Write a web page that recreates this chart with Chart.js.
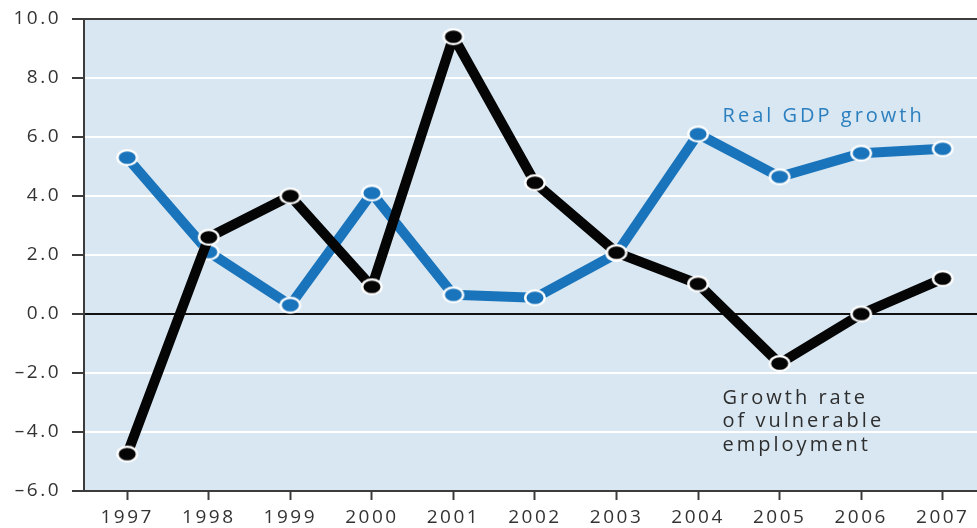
<!DOCTYPE html>
<html>
<head>
<meta charset="utf-8">
<script src="https://cdn.jsdelivr.net/npm/chart.js@4.4.1/dist/chart.umd.min.js"></script>
<style>
html,body{margin:0;padding:0;background:#fff;}
canvas{display:block;}
</style>
</head>
<body>
<canvas id="c" width="977" height="528"></canvas>
<script>
// ---- data ----
const years = [1997, 1998, 1999, 2000, 2001, 2002, 2003, 2004, 2005, 2006, 2007];
const gdpGrowth = [5.3, 2.1, 0.3, 4.1, 0.65, 0.55, 2.05, 6.1, 4.65, 5.45, 5.6];
const vulnerableEmploymentGrowth = [-4.75, 2.6, 4.0, 0.92, 9.4, 4.45, 2.08, 1.02, -1.68, 0.0, 1.2];
const yTicks = [-6, -4, -2, 0, 2, 4, 6, 8, 10];
const gdpLabel = 'Real GDP growth';
const vulnerableLabel = ['Growth rate', 'of vulnerable', 'employment'];

const BLUE = '#1a74bb';
const BLACK = '#050505';
const BG = '#d8e7f2';
const AXIS = '#3c3c3c';
const TEXT = '#333333';
const FONT = '"Open Sans", sans-serif';

const toPts = (vals) => years.map((y, i) => ({x: y, y: vals[i]}));

function ellipseMarker(color) {
  const c = document.createElement('canvas');
  c.width = 24; c.height = 19;
  const g = c.getContext('2d');
  g.fillStyle = '#ffffff';
  g.beginPath(); g.ellipse(12, 9.5, 11, 8.5, 0, 0, Math.PI * 2); g.fill();
  g.fillStyle = color;
  g.beginPath(); g.ellipse(12, 9.5, 8.5, 6.3, 0, 0, Math.PI * 2); g.fill();
  return c;
}

const bgPlugin = {
  id: 'bg',
  beforeDraw(chart) {
    const {ctx, chartArea: a} = chart;
    ctx.save();
    ctx.fillStyle = BG;
    ctx.fillRect(a.left, a.top, a.right - a.left, a.bottom - a.top);
    ctx.restore();
    chart.ctx.letterSpacing = '2.5px';
  },
  afterDraw(chart) {
    const {ctx, chartArea: a, scales} = chart;
    ctx.save();
    ctx.strokeStyle = AXIS;
    ctx.lineWidth = 2;
    ctx.beginPath();
    ctx.moveTo(a.left - 12, a.top);
    ctx.lineTo(a.right, a.top);
    ctx.stroke();
    ctx.letterSpacing = '3px';
    ctx.font = '20px ' + FONT;
    ctx.textBaseline = 'middle';
    ctx.textAlign = 'left';
    const x0 = scales.x.getPixelForValue(2004.3);
    ctx.fillStyle = '#2b7fbe';
    ctx.fillText(gdpLabel, x0, scales.y.getPixelForValue(6.71));
    ctx.fillStyle = '#2e2e2e';
    const y0 = scales.y.getPixelForValue(-2.85);
    vulnerableLabel.forEach((t, i) => ctx.fillText(t, x0, y0 + i * 23.5));
    ctx.restore();
  }
};

new Chart(document.getElementById('c'), {
  type: 'line',
  data: {
    datasets: [
      {
        label: 'Growth rate of vulnerable employment',
        data: toPts(vulnerableEmploymentGrowth),
        borderColor: BLACK,
        backgroundColor: BLACK,
        borderWidth: 10,
        pointStyle: ellipseMarker(BLACK),
        pointRadius: 9,
        tension: 0,
        borderJoinStyle: 'bevel',
        clip: false
      },
      {
        label: gdpLabel,
        data: toPts(gdpGrowth),
        borderColor: BLUE,
        backgroundColor: BLUE,
        borderWidth: 10,
        pointStyle: ellipseMarker(BLUE),
        pointRadius: 9,
        tension: 0,
        borderJoinStyle: 'bevel',
        clip: false
      }
    ]
  },
  options: {
    responsive: false,
    animation: false,
    devicePixelRatio: 1,
    layout: {autoPadding: false, padding: {top: 19, right: 0, left: 0, bottom: 0}},
    plugins: {legend: {display: false}, tooltip: {enabled: false}},
    scales: {
      x: {
        type: 'linear',
        min: 1996.47,
        max: 2007.42,
        afterBuildTicks(scale) { scale.ticks = years.map(v => ({value: v})); },
        afterFit(scale) { scale.height = 37; scale.paddingLeft = 0; scale.paddingRight = 0; },
        ticks: {
          callback: (v) => String(v),
          color: TEXT,
          font: {family: FONT, size: 19},
          padding: 6,
          maxRotation: 0,
          autoSkip: false
        },
        grid: {drawOnChartArea: false, drawTicks: true, tickLength: 9, tickColor: AXIS, tickWidth: 2},
        border: {display: true, color: AXIS, width: 2}
      },
      y: {
        min: -6,
        max: 10,
        afterBuildTicks(scale) { scale.ticks = yTicks.map(v => ({value: v})); },
        afterFit(scale) { scale.width = 84; scale.paddingTop = 0; scale.paddingBottom = 0; },
        ticks: {
          callback: (v) => (v < 0 ? '\u2013' + Math.abs(v).toFixed(1) : v.toFixed(1)),
          color: TEXT,
          font: {family: FONT, size: 19},
          padding: 11
        },
        grid: {
          color: (c) => (c.tick && c.tick.value === 0 ? '#111111' : (c.tick && (c.tick.value === 10 || c.tick.value === -6) ? AXIS : '#ffffff')),
          lineWidth: 2,
          drawTicks: true,
          tickLength: 12,
          tickColor: AXIS,
          tickWidth: 2
        },
        border: {display: true, color: AXIS, width: 2}
      }
    }
  },
  plugins: [bgPlugin]
});
</script>
</body>
</html>
